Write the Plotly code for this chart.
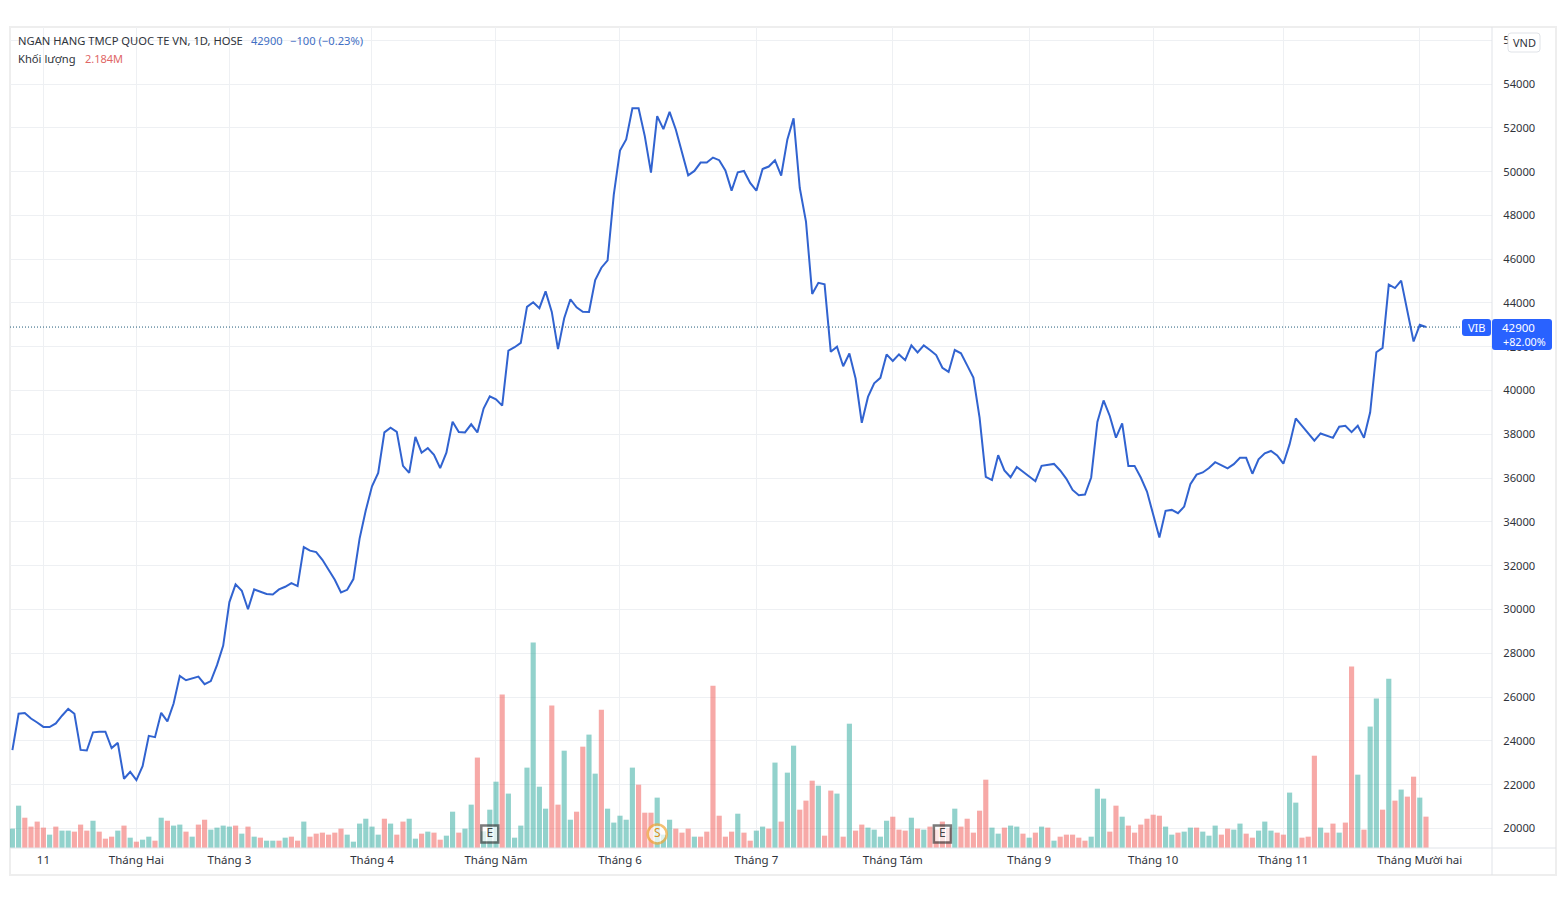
import plotly.graph_objects as go

# gia dong cua theo phien (VND), doc tu hinh
price = [
    23580, 25240, 25270, 25020, 24840, 24640, 24630, 24800, 25150, 25460,
    25240, 23590, 23560, 24390, 24420, 24420, 23670, 23910, 22270, 22590,
    22210, 22850, 24230, 24170, 25280, 24890, 25710, 26970, 26770, 26860,
    26940, 26590, 26730, 27460, 28350, 30340, 31150, 30860, 30010, 30920,
    30810, 30710, 30690, 30920, 31040, 31210, 31070, 32850, 32690, 32620,
    32270, 31820, 31360, 30780, 30900, 31390, 33240, 34530, 35630, 36240,
    38090, 38300, 38110, 36560, 36240, 37880, 37160, 37370, 37070, 36460,
    37160, 38580, 38110, 38090, 38460, 38090, 39180, 39740, 39600, 39310,
    41820, 41980, 42180, 43820, 44030, 43760, 44530, 43590, 41890, 43300,
    44170, 43800, 43600, 43590, 45050, 45610, 45950, 48950, 50960, 51470,
    52890, 52890, 51620, 49950, 52530, 51940, 52730, 51920, 50930, 49830,
    50030, 50410, 50410, 50640, 50520, 50050, 49130, 49970, 50030, 49480,
    49130, 50120, 50230, 50520, 49820, 51470, 52430, 49250, 47720, 44410,
    44920, 44850, 41770, 42000, 41110, 41690, 40550, 38530, 39710, 40330,
    40580, 41650, 41350, 41650, 41390, 42060, 41740, 42060, 41850, 41620,
    41040, 40850, 41850, 41700, 41150, 40590, 38760, 36060, 35910, 37050,
    36350, 36040, 36510, 36300, 36090, 35860, 36560, 36600, 36650, 36350,
    35970, 35460, 35220, 35250, 36030, 38570, 39550, 38840, 37850, 38500,
    36560, 36560, 36030, 35390, 34350, 33290, 34510, 34550, 34400, 34700,
    35720, 36160, 36260, 36460, 36730, 36580, 36450, 36640, 36930, 36930,
    36200, 36860, 37130, 37240, 37040, 36660, 37540, 38730, 38380, 38040,
    37710, 38040, 37950, 37840, 38350, 38390, 38100, 38390, 37840, 39010,
    41750, 41950, 44840, 44680, 45020, 43620, 42240, 43000, 42900,
]

# khoi luong (trieu co phieu)
volume = [
    1.35, 2.95, 2.11, 1.49, 1.84, 1.42, 0.93, 1.49, 1.21, 1.21,
    1.14, 1.63, 1.21, 1.90, 1.14, 0.65, 0.79, 1.21, 1.56, 0.72,
    0.44, 0.58, 0.79, 0.51, 2.11, 1.90, 1.56, 1.63, 1.14, 0.79,
    1.63, 1.97, 1.28, 1.42, 1.56, 1.49, 1.56, 1.00, 1.49, 0.79,
    0.72, 0.51, 0.51, 0.51, 0.72, 0.79, 0.51, 1.84, 0.79, 1.00,
    1.07, 0.93, 1.07, 1.35, 0.93, 0.44, 1.70, 2.04, 1.49, 0.93,
    2.04, 1.70, 0.93, 1.84, 2.04, 0.65, 1.00, 1.14, 1.07, 0.58,
    0.86, 2.53, 1.07, 1.35, 3.02, 6.30, 1.16, 2.67, 4.62, 10.69,
    3.79, 0.72, 1.56, 5.60, 14.31, 4.27, 2.74, 9.92, 3.02, 6.78,
    1.97, 2.53, 7.06, 7.90, 5.18, 9.64, 2.74, 1.77, 2.25, 1.97,
    5.60, 4.41, 2.46, 2.46, 3.51, 0.93, 1.97, 1.35, 1.07, 1.35,
    0.79, 0.79, 1.14, 11.31, 2.25, 0.79, 1.14, 2.39, 1.07, 0.51,
    1.21, 1.49, 1.35, 5.95, 1.84, 5.25, 7.13, 2.67, 3.30, 4.69,
    4.34, 0.86, 4.00, 3.79, 0.79, 8.66, 1.21, 1.63, 1.42, 1.28,
    0.79, 1.90, 2.18, 1.28, 1.21, 2.11, 1.35, 1.28, 1.49, 1.28,
    1.84, 1.39, 2.74, 1.49, 2.04, 1.07, 2.60, 4.76, 1.42, 1.00,
    1.42, 1.56, 1.49, 1.00, 0.72, 1.07, 1.49, 1.42, 0.51, 0.79,
    0.93, 0.93, 0.72, 0.51, 0.79, 4.13, 3.44, 1.14, 2.95, 2.18,
    1.56, 1.07, 1.63, 2.04, 2.32, 2.25, 1.49, 0.93, 1.07, 1.14,
    1.42, 1.42, 1.14, 0.86, 1.56, 0.93, 1.35, 1.28, 1.70, 1.00,
    0.72, 1.21, 1.84, 1.21, 1.07, 0.93, 3.86, 3.16, 0.72, 0.79,
    6.43, 1.42, 1.07, 1.70, 1.07, 1.77, 12.64, 5.11, 1.28, 8.46,
    10.41, 2.67, 11.80, 3.30, 4.07, 3.58, 4.97, 3.51, 2.184,
]

# u = phien tang (xanh), d = phien giam (do)
direction = """
u u d d d d u d u u
d d d u d d d u d u
d u u d u d u u d u
d d u u u u d u d u
d u u d u d d u d d
d d d d u u u u u u
d u d d u u d u d d
u u d u u d u u u d
u u u u u u u d d u
u d d u u d u u u u
u d d d u u u d d d
u d d d d d d u d d
u u d u d u u d d d
u d d u d u d d u u
u u d d d u d u d d
d d u d d d d d u u
d u u d u d u d u d
d d d d u u u d d u
d d d d d d u u d u
u d u u u d d u u d
d u u u d d u u d d
d u d d u d d u d u
u d u d u d d u d
""".split()

tick_pos = [5, 20, 35, 58, 78, 98, 120, 142, 164, 184, 205, 227]
tick_text = ["11", "Tháng Hai", "Tháng 3", "Tháng 4", "Tháng Năm", "Tháng 6", "Tháng 7",
             "Tháng Tám", "Tháng 9", "Tháng 10", "Tháng 11", "Tháng Mười hai"]
price_ticks = list(range(20000, 56001, 2000))

event_pos = [77, 104, 150]
event_text = ["E", "S", "E"]

last_price = 42900
FONT = "Noto Sans"
GRID = "#eef0f3"
BLUE = "#2962ff"
TEXT = "#2f333b"


def px(x):
    return (x - 10) / 1482


def py(y):
    return (848 - y) / 821


def round_box(x0, y0, x1, y1, r=3):
    a, b, c, d = px(x0), px(x0 + r), px(x1 - r), px(x1)
    e, f, g, h = py(y0), py(y0 + r), py(y1 - r), py(y1)
    return f"M{b},{e} L{c},{e} Q{d},{e} {d},{f} L{d},{g} Q{d},{h} {c},{h} L{b},{h} Q{a},{h} {a},{g} L{a},{f} Q{a},{e} {b},{e} Z"


def label(text, x, y, color=TEXT, size=11, anchor="left"):
    return dict(text=text, xref="paper", yref="paper", x=px(x), y=py(y), xanchor=anchor, yanchor="middle",
                showarrow=False, font=dict(family=FONT, size=size, color=color))


x = list(range(len(price)))
colors = ["rgba(38,166,154,0.5)" if d == "u" else "rgba(239,83,80,0.5)" for d in direction]
assert len(price) == len(volume) == len(direction), (len(price), len(volume), len(direction))

fig = go.Figure()
fig.add_trace(go.Bar(x=x, y=volume, marker=dict(color=colors, line_width=0), yaxis="y", showlegend=False))
fig.add_trace(go.Scatter(x=x, y=price, mode="lines", line=dict(color="#3163d0", width=2), yaxis="y2", showlegend=False))
fig.add_trace(go.Scatter(
    x=event_pos, y=[19750] * 3, mode="markers+text", yaxis="y2", showlegend=False,
    text=event_text, textposition="middle center",
    textfont=dict(family=FONT, size=12, color=["#444444", "#d98f20", "#444444"]),
    marker=dict(size=[17, 19, 17], symbol=["square", "circle", "square"], color="white",
                line=dict(width=[2.5, 2.5, 2.5], color=["#444444", "#f0a838", "#444444"])),
))

shapes = [
    dict(type="rect", xref="paper", yref="paper", x0=px(10), x1=px(1556), y0=py(27), y1=py(875),
         line=dict(color="#eeeeee", width=2), layer="below"),
    dict(type="line", xref="paper", yref="paper", x0=px(10), x1=px(1556), y0=py(848), y1=py(848),
         line=dict(color="#e0e3e8", width=1), layer="above"),
    dict(type="line", xref="paper", yref="paper", x0=px(1492), x1=px(1492), y0=py(27), y1=py(875),
         line=dict(color="#e0e3e8", width=1), layer="above"),
    dict(type="line", xref="paper", yref="y2", x0=px(10), x1=px(1463), y0=last_price, y1=last_price,
         line=dict(color="#1f5a78", width=1, dash="1px,2px"), layer="above"),
    dict(type="path", xref="paper", yref="paper", path=round_box(1508, 33, 1540, 52),
         fillcolor="white", line=dict(color="#e0e3e8", width=1), layer="above"),
    dict(type="path", xref="paper", yref="paper", path=round_box(1462, 319, 1491, 336),
         fillcolor=BLUE, line_width=0, layer="above"),
    dict(type="path", xref="paper", yref="paper", path=round_box(1492, 319, 1552, 350),
         fillcolor=BLUE, line_width=0, layer="above"),
]

annotations = [
    label("NGAN HANG TMCP QUOC TE VN, 1D, HOSE", 16, 40.5, size=11.2),
    label("42900", 249, 40.5, "#3f6fc4"),
    label("−100 (−0.23%)", 288, 40.5, "#3f6fc4", size=11.2),
    label("Khối lượng", 16, 58, size=11.2),
    label("2.184M", 83, 58, "#e06666"),
    label("VND", 1524, 42, TEXT, anchor="center"),
    label("VIB", 1476.5, 327, "white", anchor="center"),
    label(f"{last_price}", 1500, 327, "white", 11.5),
    label("+82.00%", 1501, 341.5, "white", 10.8),
]

fig.update_layout(
    width=1566, height=910,
    margin=dict(l=10, r=74, t=27, b=62),
    paper_bgcolor="white", plot_bgcolor="white",
    font=dict(family=FONT, size=12, color=TEXT),
    bargap=0.17,
    shapes=shapes, annotations=annotations,
    xaxis=dict(range=[-0.387, 238.65], tickmode="array", tickvals=tick_pos, ticktext=tick_text,
               showgrid=True, gridcolor=GRID, gridwidth=1, zeroline=False, showline=False,
               ticks="outside", ticklen=1, tickcolor="rgba(0,0,0,0)", tickfont=dict(size=11.5)),
    yaxis=dict(range=[0, 57.2], visible=False, showgrid=False, zeroline=False),
    yaxis2=dict(range=[19109, 56603], overlaying="y", side="right", tickmode="array", tickvals=price_ticks,
                ticktext=[str(v) for v in price_ticks], showgrid=True, gridcolor=GRID, gridwidth=1,
                zeroline=False, showline=False, ticks="outside", ticklen=8, tickcolor="rgba(0,0,0,0)",
                tickfont=dict(size=11.2)),
)

fig.write_html("out.html", config=dict(displayModeBar=False),
               post_script="document.body.style.margin='0';document.body.style.overflow='hidden';")
